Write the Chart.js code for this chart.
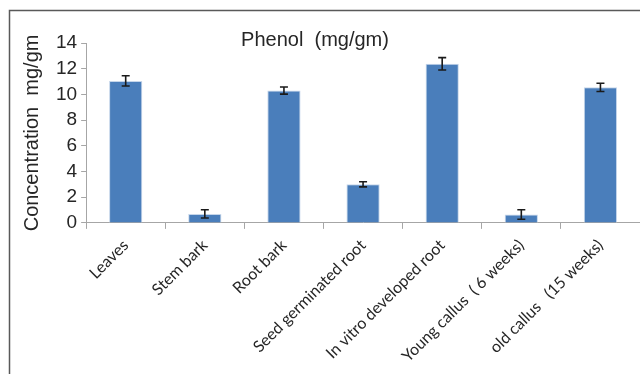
<!DOCTYPE html>
<html>
<head>
<meta charset="utf-8">
<script src="https://cdn.jsdelivr.net/npm/chart.js@4.4.0/dist/chart.umd.min.js"></script>
<style>
  html, body { margin: 0; padding: 0; background: #fff; }
  #wrap { width: 640px; height: 374px; }
</style>
</head>
<body>
<div id="wrap"><canvas id="phenolChart" width="640" height="374"></canvas></div>
<script>
  // data
  var samples = ['Leaves', 'Stem bark', 'Root bark', 'Seed germinated root',
                 'In vitro developed root', 'Young callus  ( 6 weeks)', 'old callus   (15 weeks)'];
  var phenol = [11.05, 0.7, 10.3, 3.0, 12.38, 0.65, 10.55];
  var phenolErr = [0.4, 0.32, 0.28, 0.2, 0.48, 0.37, 0.32];
  var yTicks = [0, 2, 4, 6, 8, 10, 12, 14];

  // outer frame + title, drawn on the canvas
  var framePlugin = {
    id: 'frame',
    beforeDraw: function(chart) {
      var ctx = chart.ctx;
      ctx.save();
      ctx.strokeStyle = '#595959';
      ctx.lineWidth = 1.5;
      ctx.beginPath();
      ctx.moveTo(9.5, chart.height);
      ctx.lineTo(9.5, 10.5);
      ctx.lineTo(chart.width, 10.5);
      ctx.stroke();
      ctx.restore();
    },
    afterDraw: function(chart) {
      var ctx = chart.ctx;
      ctx.save();
      ctx.fillStyle = '#262626';
      ctx.font = '20px "Liberation Sans", Arial, sans-serif';
      ctx.textAlign = 'center';
      ctx.textBaseline = 'middle';
      ctx.fillText('Phenol  (mg/gm)', 315, 40);
      ctx.restore();
    }
  };

  // error bars from phenolErr, placed with the chart's own scales
  var errorBarPlugin = {
    id: 'errorBars',
    afterDatasetsDraw: function(chart) {
      var ctx = chart.ctx;
      var meta = chart.getDatasetMeta(0);
      var yScale = chart.scales.y;
      ctx.save();
      ctx.strokeStyle = '#1a1a1a';
      ctx.lineWidth = 1.6;
      meta.data.forEach(function(bar, i) {
        var x = bar.x;
        var top = yScale.getPixelForValue(phenol[i] + phenolErr[i]);
        var bottom = yScale.getPixelForValue(phenol[i] - phenolErr[i]);
        ctx.beginPath();
        ctx.moveTo(x, top);
        ctx.lineTo(x, bottom);
        ctx.moveTo(x - 4, top);
        ctx.lineTo(x + 4, top);
        ctx.moveTo(x - 4, bottom);
        ctx.lineTo(x + 4, bottom);
        ctx.stroke();
      });
      ctx.restore();
    }
  };

  var ctx = document.getElementById('phenolChart').getContext('2d');
  var phenolChart = new Chart(ctx, {
    type: 'bar',
    data: {
      labels: samples,
      datasets: [{
        data: phenol,
        backgroundColor: '#4a7ebb',
        borderColor: '#c6d6ea',
        borderWidth: 1,
        categoryPercentage: 1,
        barPercentage: 0.42
      }]
    },
    options: {
      responsive: false,
      animation: false,
      layout: { padding: { left: 20, top: 43, right: 0, bottom: 1 } },
      plugins: {
        legend: { display: false },
        title: { display: false },
        tooltip: { enabled: false }
      },
      scales: {
        x: {
          grid: { display: true, drawOnChartArea: false, drawTicks: true, tickLength: 6, color: '#a6a6a6', offset: true },
          border: { color: '#a6a6a6', width: 1 },
          ticks: {
            minRotation: 45,
            maxRotation: 45,
            autoSkip: false,
            color: '#262626',
            padding: 7,
            font: { family: 'Lato, "Open Sans", sans-serif', size: 16 }
          }
        },
        y: {
          min: 0,
          max: 14,
          afterBuildTicks: function(axis) {
            axis.ticks = yTicks.map(function(v) { return { value: v }; });
          },
          grid: { display: true, drawOnChartArea: false, drawTicks: true, tickLength: 5, color: '#a6a6a6' },
          border: { color: '#a6a6a6', width: 1 },
          ticks: {
            autoSkip: false,
            color: '#262626',
            padding: 4,
            font: { family: '"Liberation Sans", Arial, sans-serif', size: 19 }
          },
          title: {
            display: true,
            text: 'Concentration  mg/gm',
            color: '#262626',
            padding: { top: 0, bottom: 8 },
            font: { family: '"Liberation Sans", Arial, sans-serif', size: 20 }
          }
        }
      }
    },
    plugins: [framePlugin, errorBarPlugin]
  });
</script>
</body>
</html>
